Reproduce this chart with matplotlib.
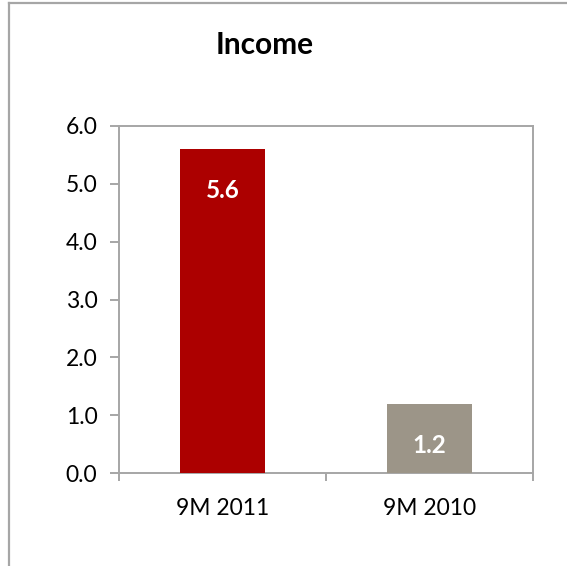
import matplotlib
matplotlib.use("Agg")
import matplotlib.pyplot as plt
from matplotlib.lines import Line2D

categories = ["9M 2011", "9M 2010"]
values = [5.6, 1.2]
colors = ["#AC0000", "#9C9588"]
yticks = [0.0, 1.0, 2.0, 3.0, 4.0, 5.0, 6.0]
title = "Income"

plt.rcParams['font.family'] = ['Lato', 'DejaVu Sans']

fig = plt.figure(figsize=(5.67, 5.66), dpi=100)
ax = fig.add_axes([119/567, 1-473/566, (533-119)/567, (473-126)/566])

x = list(range(len(categories)))
bars = ax.bar(x, values, width=0.406, color=colors, zorder=3)
ax.set_xlim(-0.5, len(categories)-0.5)
ax.set_ylim(0, 6)
ax.set_yticks(yticks)
ax.set_yticklabels([f"{v:.1f}" for v in yticks])
ax.set_xticks(x)
ax.set_xticklabels(categories)
ax.set_xticks([i-0.5 for i in range(len(categories)+1)], minor=True)

spc = "#A6A6A6"
for s in ax.spines.values():
    s.set_color(spc)
    s.set_linewidth(1.4)
ax.tick_params(axis='y', direction='out', length=6.5, width=1.4, color=spc,
               labelsize=16.5, pad=9, labelcolor='black')
ax.tick_params(axis='x', which='major', length=0, labelsize=16.5, pad=18, labelcolor='black')
ax.tick_params(axis='x', which='minor', direction='out', length=6, width=1.4, color=spc)

for b, v in zip(bars, values):
    ax.annotate(f"{v:.1f}", (b.get_x()+b.get_width()/2, v), xytext=(0, -30),
                textcoords='offset points', ha='center', va='center',
                color='white', fontsize=17.5, fontweight='bold', zorder=4)

fig.text(265/567, 1-45/566, title, ha='center', va='center', fontsize=21.5, fontweight='bold')

# outer chart frame (left and top edges visible)
fig.add_artist(Line2D([9/567, 9/567], [0, 1-3/566], transform=fig.transFigure, color="#A6A6A6", lw=1.6))
fig.add_artist(Line2D([9/567, 1], [1-3/566, 1-3/566], transform=fig.transFigure, color="#A6A6A6", lw=1.6))

fig.savefig("out.png", dpi=100)
